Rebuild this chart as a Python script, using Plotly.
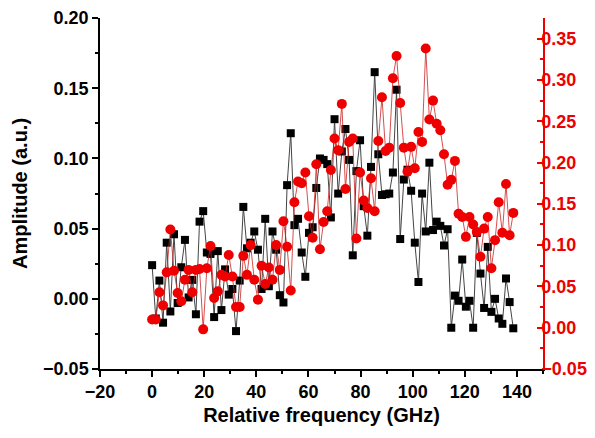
import plotly.graph_objects as go

# relative frequency (GHz), 1.4 GHz steps
freq = [round(i * 1.4, 1) for i in range(100)]

# black squares, left axis
amp_black = [
    0.024, -0.014, 0.013, -0.017, 0.040, -0.009, 0.046, -0.003, 0.0225, 0.042,
    0.001, 0.0135, -0.011, 0.055, 0.0625, 0.033, 0.032, -0.013, 0.034, -0.008,
    0.021, 0.003, 0.007, -0.023, 0.013, 0.0655, 0.036, 0.040, 0.048, 0.035,
    0.007, 0.057, 0.009, 0.048, 0.035, 0.0026, -0.0026, 0.081, 0.118, 0.0525,
    0.057, 0.033, 0.0157, 0.047, 0.051, 0.079, 0.100, 0.099, 0.096, 0.058,
    0.128, 0.075, 0.105, 0.121, 0.099, 0.031, 0.091, 0.113, 0.066, 0.045,
    0.094, 0.1615, 0.103, 0.074, 0.0745, 0.075, 0.090, 0.149, 0.0426, 0.085,
    0.092, 0.077, 0.040, 0.012, 0.075, 0.048, 0.097, 0.049, 0.055, 0.052,
    0.038, 0.0496, -0.0206, 0.0023, -0.0014, 0.028, -0.0056, -0.0014, -0.0206, 0.047,
    0.018, -0.0065, 0.037, -0.0093, 0.0, -0.014, -0.0178, 0.0145, -0.0023, -0.021,
]

# red circles, right axis
amp_red = [
    0.010, 0.010, 0.043, 0.027, 0.067, 0.119, 0.069, 0.042, 0.032, 0.058,
    0.070, 0.043, 0.070, 0.071, -0.002, 0.072, 0.099, 0.036, 0.044, 0.064,
    0.062, 0.088, 0.062, 0.025, 0.025, 0.087, 0.064, 0.100, 0.058, 0.034,
    0.075, 0.053, 0.073, 0.058, 0.100, 0.070, 0.129, 0.098, 0.045, 0.152,
    0.177, 0.175, 0.188, 0.135, 0.109, 0.198, 0.095, 0.128, 0.141, 0.191,
    0.229, 0.215, 0.271, 0.168, 0.225, 0.229, 0.108, 0.188, 0.154, 0.145,
    0.181, 0.141, 0.226, 0.279, 0.214, 0.218, 0.302, 0.329, 0.272, 0.218,
    0.189, 0.219, 0.193, 0.237, 0.225, 0.338, 0.252, 0.275, 0.247, 0.239,
    0.210, 0.173, 0.179, 0.202, 0.138, 0.134, 0.110, 0.134, 0.125, 0.116,
    0.086, 0.120, 0.134, 0.072, 0.106, 0.152, 0.115, 0.174, 0.112, 0.139,
]

FONT = "Liberation Sans"
RED = "#ee0000"

fig = go.Figure()

fig.add_trace(go.Scatter(
    x=freq, y=amp_black, mode="lines+markers",
    line=dict(color="#444444", width=1),
    marker=dict(symbol="square", size=8, color="black"),
    yaxis="y",
))
fig.add_trace(go.Scatter(
    x=freq, y=amp_red, mode="lines+markers",
    line=dict(color="#cc2222", width=0.8),
    marker=dict(symbol="circle", size=10, color=RED),
    yaxis="y2",
))

# page body adds an 8px offset, so the figure is 8px smaller each way
fig.update_layout(
    width=587, height=430,
    margin=dict(l=92, r=52, t=10, b=69),
    paper_bgcolor="white", plot_bgcolor="white",
    showlegend=False,
    xaxis=dict(
        range=[-20, 150], dtick=20, tick0=0, automargin=False,
        showgrid=False, zeroline=False,
        showline=True, linecolor="black", linewidth=1.5,
        ticks="outside", ticklen=6, tickwidth=1.5, tickcolor="black",
        minor=dict(dtick=10, ticks="outside", ticklen=3, tickcolor="black"),
        tickfont=dict(family=FONT, size=18, color="black", weight="bold"),
        ticklabeloverflow="allow",
        title=dict(text="Relative frequency (GHz)", standoff=7,
                   font=dict(family=FONT, size=20, color="black", weight="bold")),
    ),
    yaxis=dict(
        range=[-0.05, 0.2001], tick0=0, dtick=0.05, tickformat=".2f", automargin=False,
        showgrid=False, zeroline=False,
        showline=True, linecolor="black", linewidth=1.5,
        ticks="outside", ticklen=6, tickwidth=1.5, tickcolor="black",
        minor=dict(dtick=0.025, ticks="outside", ticklen=3, tickcolor="black"),
        tickfont=dict(family=FONT, size=18, color="black", weight="bold"),
        ticklabeloverflow="allow",
        title=dict(text="Amplitude (a.u.)", standoff=10,
                   font=dict(family=FONT, size=20, color="black", weight="bold")),
    ),
    yaxis2=dict(
        overlaying="y", side="right", automargin=False,
        range=[-0.05, 0.375], tick0=0, dtick=0.05, tickformat=".2f",
        showgrid=False, zeroline=False,
        showline=True, linecolor=RED, linewidth=1.5,
        ticks="inside", ticklen=6, tickwidth=1.5, tickcolor=RED,
        minor=dict(dtick=0.025, ticks="inside", ticklen=3, tickcolor=RED),
        tickfont=dict(family=FONT, size=18, color=RED, weight="bold"),
        ticklabeloverflow="allow", ticklabelstandoff=-7,
    ),
)

fig.write_html("out.html")
